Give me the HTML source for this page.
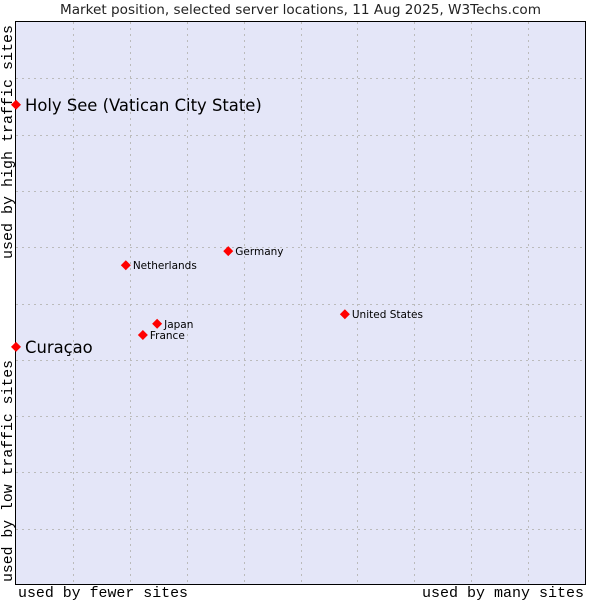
<!DOCTYPE html>
<html><head><meta charset="utf-8"><style>
body{margin:0;background:#fff;width:600px;height:600px;overflow:hidden}
svg{display:block}
</style></head><body>
<svg id="chart" width="600" height="600" xmlns="http://www.w3.org/2000/svg">
<text x="60" y="14" textLength="481" lengthAdjust="spacingAndGlyphs" font-family="DejaVu Sans, sans-serif" font-size="13" fill="#222">Market position, selected server locations, 11 Aug 2025, W3Techs.com</text>
<rect x="15.5" y="21.5" width="570" height="563" fill="#e4e6f8" stroke="#000" stroke-width="1"/>
<g id="grid"></g>
<text x="18" y="597" textLength="170" lengthAdjust="spacingAndGlyphs" font-family="Liberation Mono, DejaVu Sans Mono, monospace" font-size="15" fill="#000">used by fewer sites</text>
<text x="422" y="597" textLength="162" lengthAdjust="spacingAndGlyphs" font-family="Liberation Mono, DejaVu Sans Mono, monospace" font-size="15" fill="#000">used by many sites</text>
<text transform="translate(12,582) rotate(-90)" textLength="222" lengthAdjust="spacingAndGlyphs" font-family="Liberation Mono, DejaVu Sans Mono, monospace" font-size="15" fill="#000">used by low traffic sites</text>
<text transform="translate(12,259) rotate(-90)" textLength="234" lengthAdjust="spacingAndGlyphs" font-family="Liberation Mono, DejaVu Sans Mono, monospace" font-size="15" fill="#000">used by high traffic sites</text>
<g id="points"></g>
</svg>
<script>
const names=["Holy See (Vatican City State)","Curaçao","Netherlands","Germany","United States","Japan","France"];
const xValues=[0,0,19.3,37.3,57.8,24.8,22.3];
const yValues=[85.3,42.3,56.8,59.3,48.1,46.4,44.4];
const highlighted=[true,true,false,false,false,false,false];
const L=16,R=585,T=22,B=585;
const sx=v=>L+v/100*(R-L);
const sy=v=>B-v/100*(B-T);
const NS="http://www.w3.org/2000/svg";
const grid=document.getElementById('grid');
for(let i=1;i<10;i++){
  const x=Math.round(L+i*(R-L)/10)+0.5;
  const l=document.createElementNS(NS,'line');
  
  
  l.setAttribute('x1',x);l.setAttribute('x2',x);l.setAttribute('y1',T);l.setAttribute('y2',B);
  l.setAttribute('stroke','#bbb');l.setAttribute('stroke-dasharray','2,4');
  grid.appendChild(l);
  const y=Math.round(T+i*(B-T)/10)+0.5;
  const m=document.createElementNS(NS,'line');
  
  
  m.setAttribute('x1',L);m.setAttribute('x2',R);m.setAttribute('y1',y);m.setAttribute('y2',y);
  m.setAttribute('stroke','#bbb');m.setAttribute('stroke-dasharray','2,4');
  grid.appendChild(m);
}
const pts=document.getElementById('points');
names.forEach((n,i)=>{
  const x=sx(xValues[i]),y=sy(yValues[i]);
  const p=document.createElementNS(NS,'polygon');
  
  
  const r=5;
  p.setAttribute('points',`${x},${y-r} ${x+r},${y} ${x},${y+r} ${x-r},${y}`);
  p.setAttribute('fill','#f00');
  pts.appendChild(p);
  const t=document.createElementNS(NS,'text');
  
  
  t.setAttribute('x',x+(highlighted[i]?9:7));
  t.setAttribute('y',y+(highlighted[i]?6:4));
  t.setAttribute('font-family','DejaVu Sans, sans-serif');
  t.setAttribute('font-size',highlighted[i]?'16.4':'10.5');
  t.setAttribute('fill','#000');
  t.textContent=n;
  pts.appendChild(t);
});
</script>
</body></html>
